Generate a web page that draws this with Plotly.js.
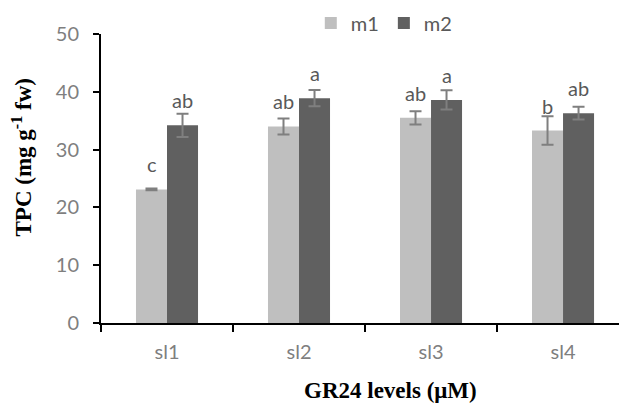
<!DOCTYPE html>
<html>
<head>
<meta charset="utf-8">
<script src="https://cdn.plot.ly/plotly-3.0.1.min.js"></script>
<style>html,body{margin:0;padding:0;background:#fff;}#chart{width:619px;height:409px;}</style>
</head>
<body>
<div id="chart"></div>
<script>
// ---- data ----
var categories = ['sl1', 'sl2', 'sl3', 'sl4'];
var seriesNames = ['m1', 'm2'];
var m1Values = [23.1, 34.0, 35.5, 33.3];
var m1Errors = [0.15, 1.4, 1.15, 2.45];
var m1Letters = ['c', 'ab', 'ab', 'b'];
var m2Values = [34.2, 38.9, 38.6, 36.3];
var m2Errors = [2.0, 1.4, 1.65, 1.1];
var m2Letters = ['ab', 'a', 'a', 'ab'];
var yTickVals = [0, 10, 20, 30, 40, 50];

var tickFont = {family: 'Lato, "Open Sans", sans-serif', size: 20, color: '#7f7f7f'};
var errStyle = {type: 'data', visible: true, color: '#7f7f7f', thickness: 2, width: 6};

var traces = [
  {type: 'bar', name: seriesNames[0], x: categories, y: m1Values,
   marker: {color: '#bfbfbf'}, error_y: Object.assign({array: m1Errors}, errStyle),
   hoverinfo: 'skip'},
  {type: 'bar', name: seriesNames[1], x: categories, y: m2Values,
   marker: {color: '#606060'}, error_y: Object.assign({array: m2Errors}, errStyle),
   hoverinfo: 'skip'}
];

var annotations = [];
var letterFont = {family: 'Lato, "Open Sans", sans-serif', size: 20, color: '#595959'};
categories.forEach(function (c, i) {
  annotations.push({x: c, y: m1Values[i], xref: 'x', yref: 'y', text: m1Letters[i],
    showarrow: false, xshift: -15.5, yshift: 25, yanchor: 'middle', font: letterFont});
  annotations.push({x: c, y: m2Values[i], xref: 'x', yref: 'y', text: m2Letters[i],
    showarrow: false, xshift: 15.5, yshift: 25, yanchor: 'middle', font: letterFont});
});
annotations.push({xref: 'paper', yref: 'paper', x: 0.558, y: -0.235, text: '<b>GR24 levels (μM)</b>',
  showarrow: false, xanchor: 'center', yanchor: 'middle',
  font: {family: '"Liberation Serif", "Times New Roman", serif', size: 23, color: '#000'}});
annotations.push({xref: 'paper', yref: 'paper', x: -0.1525, y: 0.5727, text: '<b>TPC (mg g<sup>-1</sup> fw)</b>',
  showarrow: false, textangle: -90, xanchor: 'center', yanchor: 'middle',
  font: {family: '"Liberation Serif", "Times New Roman", serif', size: 23, color: '#000'}});

var layout = {
  width: 619, height: 409,
  margin: {l: 101, r: 0, t: 34, b: 86},
  paper_bgcolor: '#fff', plot_bgcolor: '#fff',
  barmode: 'group', bargap: 0.53, bargroupgap: 0,
  showlegend: true,
  legend: {orientation: 'h', x: 0.405, xanchor: 'left', y: 1.038, yanchor: 'middle',
    font: {family: 'Lato, "Open Sans", sans-serif', size: 20, color: '#595959'},
    bgcolor: 'rgba(0,0,0,0)', traceorder: 'normal'},
  xaxis: {type: 'category', range: [-0.5, 3.424], showline: true, linecolor: '#000', linewidth: 2,
    ticks: 'outside', tickson: 'boundaries', ticklen: 7, tickwidth: 2, tickcolor: '#000',
    showgrid: false, zeroline: false, tickfont: tickFont, ticklabelstandoff: 10, fixedrange: true},
  yaxis: {range: [0, 50], tickvals: yTickVals, showline: true, linecolor: '#000', linewidth: 2,
    ticks: 'outside', ticklen: 6, tickwidth: 2, tickcolor: '#000',
    showgrid: false, zeroline: false, tickfont: tickFont, ticklabelstandoff: 10, fixedrange: true},
  annotations: annotations
};

Plotly.newPlot('chart', traces, layout, {displayModeBar: false, staticPlot: true});
</script>
</body>
</html>
